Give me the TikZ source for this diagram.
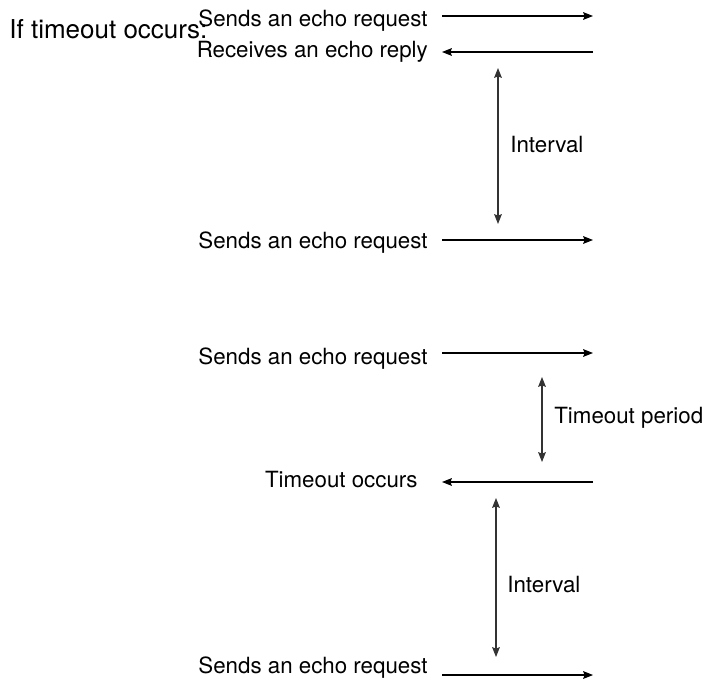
\documentclass[tikz,border=0pt]{standalone}
\usepackage{fontspec}
\setmainfont{TeX Gyre Heros}
\usetikzlibrary{arrows.meta}

\begin{document}
\begin{tikzpicture}[x=0.02cm, y=-0.02cm,
    evlabel/.style={font=\fontsize{12.7}{15}\selectfont, inner sep=0pt, anchor=base east},
    spanlabel/.style={font=\fontsize{12.7}{15}\selectfont, inner sep=0pt, anchor=west},
    msg/.style={line width=0.6pt, -{Stealth[length=5.6pt,width=4.4pt,inset=0.8pt]}},
    spanarrow/.style={line width=0.6pt, black!80,
      {Stealth[length=5.6pt,width=4.4pt,inset=0.8pt]}-{Stealth[length=5.6pt,width=4.4pt,inset=0.8pt]}}]
  \useasboundingbox (0,0) rectangle (710,683);

  % Heading
  \node[font=\fontsize{14.8}{17}\selectfont, inner sep=0pt, anchor=base west]
    (head) at (9,38) {If timeout occurs:};

  % Events on the left
  \node[evlabel] (req1) at (428,26) {Sends an echo request};
  \node[evlabel] (rep1) at (428,57) {Receives an echo reply};
  \node[evlabel] (req2) at (428,248) {Sends an echo request};
  \node[evlabel] (req3) at (428,364) {Sends an echo request};
  \node[evlabel] (tout) at (418,487) {Timeout occurs};
  \node[evlabel] (req4) at (428,673) {Sends an echo request};

  % Arrow ends (l = near the text, r = far side)
  \foreach \nm/\y in {req1/16, rep1/52, req2/240, req3/353, tout/482, req4/675}{
    \coordinate (\nm l) at (442,\y);
    \coordinate (\nm r) at (593,\y);
  }
  \draw[msg] (req1l) -- (req1r);
  \draw[msg] (rep1r) -- (rep1l);
  \draw[msg] (req2l) -- (req2r);
  \draw[msg] (req3l) -- (req3r);
  \draw[msg] (toutr) -- (toutl);
  \draw[msg] (req4l) -- (req4r);

  % Spans
  \coordinate (int1t) at (498,68);
  \coordinate (int1b) at (498,224);
  \coordinate (tpt) at (542,377);
  \coordinate (tpb) at (542,462);
  \coordinate (int2t) at (496,498);
  \coordinate (int2b) at (496,657);
  \draw[spanarrow] (int1t) -- (int1b);
  \draw[spanarrow] (tpt) -- (tpb);
  \draw[spanarrow] (int2t) -- (int2b);
  \node[spanlabel] (int1) at (510,145) {Interval};
  \node[spanlabel] (tp) at (554,418) {Timeout period};
  \node[spanlabel] (int2) at (507,585) {Interval};
\end{tikzpicture}
\end{document}
